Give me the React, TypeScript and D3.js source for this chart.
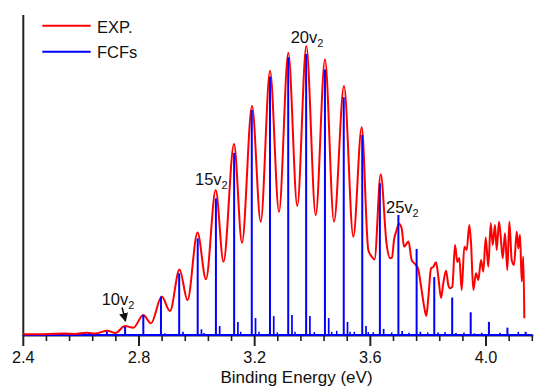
import React from "react";
import * as d3 from "d3";

const W = 535;
const H = 388;

// x axis ticks (Binding Energy, eV)
const majorTicks = [2.4, 2.8, 3.2, 3.6, 4.0];
const majorTickLabels = ["2.4", "2.8", "3.2", "3.6", "4.0"];
const minorTicks = [2.48, 2.56, 2.64, 2.72, 2.88, 2.96, 3.04, 3.12, 3.28, 3.36, 3.44, 3.52, 3.68, 3.76, 3.84, 3.92, 4.08, 4.16];

// FCF main progression (n = 8 ... 32)
const mainE = [2.625, 2.689, 2.752, 2.815, 2.876, 2.939, 3.003, 3.066, 3.129, 3.19, 3.253, 3.316, 3.378, 3.443, 3.508, 3.572, 3.633, 3.697, 3.76, 3.821, 3.883, 3.947, 4.01, 4.074, 4.137];
const mainI = [0.5, 1.1, 2.6, 6.3, 12.0, 19.3, 30.2, 42.7, 56.9, 70.3, 80.7, 86.8, 87.8, 83.0, 74.3, 62.5, 47.4, 37.5, 26.9, 18.1, 11.7, 7.1, 4.1, 2.3, 1.0];

// FCF combination bands
const combE = [2.889, 2.952, 3.016, 3.079, 3.142, 3.203, 3.266, 3.329, 3.391, 3.456, 3.521, 3.585, 3.646, 3.71, 3.773, 3.834, 3.896, 3.96];
const combI = [0.5, 1.0, 1.8, 2.8, 4.1, 5.3, 5.9, 6.25, 5.9, 5.3, 4.1, 2.8, 1.9, 1.25, 1.0, 0.8, 0.6, 0.5];

// weak FCF lines
const weakE = [3.025, 3.1517, 3.215, 3.2783, 3.3395, 3.4062, 3.4664, 3.4837, 3.5297, 3.5445, 3.5929, 3.6102, 3.6738, 3.7337, 3.7983, 3.8581, 3.9238, 3.985, 4.0483, 4.1116];
const weakI = [0.6, 1.0, 1.0, 0.8, 1.0, 0.9, 1.0, 1.3, 1.0, 1.0, 0.9, 0.9, 0.8, 0.7, 0.8, 0.9, 0.8, 0.7, 0.7, 1.0];

// experimental spectrum
const expE = [2.4, 2.4577, 2.5096, 2.5442, 2.5788, 2.6192, 2.6479, 2.6911, 2.7188, 2.7517, 2.7804, 2.8149, 2.8416, 2.8786, 2.9073, 2.9401, 2.9678, 3.0023, 3.0317, 3.0653, 3.0923, 3.1286, 3.1562, 3.1908, 3.2209, 3.2531, 3.2842, 3.3163, 3.3474, 3.3786, 3.4111, 3.4432, 3.4743, 3.5089, 3.5411, 3.5701, 3.5929, 3.6047, 3.6144, 3.6358, 3.6566, 3.668, 3.6749, 3.6818, 3.6911, 3.6991, 3.7084, 3.7164, 3.732, 3.743, 3.7544, 3.7648, 3.7752, 3.7856, 3.7935, 3.8004, 3.8098, 3.8177, 3.8271, 3.835, 3.8444, 3.8523, 3.8617, 3.8696, 3.8755, 3.8834, 3.8928, 3.9007, 3.9076, 3.9159, 3.9249, 3.9332, 3.9422, 3.9481, 3.956, 3.9654, 3.9733, 3.9827, 3.9906, 3.9989, 4.0079, 4.0162, 4.0231, 4.031, 4.0369, 4.0449, 4.0508, 4.0577, 4.0657, 4.0736, 4.0806, 4.0888, 4.0968, 4.1061, 4.1116, 4.1175, 4.1234, 4.1289, 4.1324];
const expI = [0.2, 0.25, 0.4, 0.45, 0.35, 0.7, 0.45, 1.35, 0.65, 2.8, 2.25, 6.25, 3.65, 12.0, 7.5, 20.5, 10.9, 32.0, 17.4, 45.3, 22.9, 59.7, 28.8, 71.6, 35.4, 82.6, 38.5, 88.2, 40.3, 90.3, 37.5, 86.2, 35.4, 77.8, 30.7, 64.9, 26.6, 24.5, 23.6, 50.2, 28.1, 24.0, 24.2, 29.7, 32.8, 34.8, 33.3, 27.6, 29.2, 23.4, 22.2, 20.8, 15.3, 9.1, 5.9, 11.6, 20.8, 21.3, 22.7, 18.2, 11.6, 16.2, 20.1, 15.6, 14.6, 15.1, 28.1, 22.8, 24.1, 14.1, 27.6, 26.6, 34.4, 28.7, 14.1, 19.3, 17.2, 23.4, 19.8, 30.5, 21.3, 34.9, 28.1, 34.4, 26.6, 35.4, 30.7, 24.0, 31.8, 20.3, 35.4, 23.4, 21.9, 32.3, 27.1, 31.3, 16.7, 24.5, 5.2];

// progression labels
const labelNums = ["10", "15", "20", "25"];
const labelE = [2.671, 2.9937, 3.3246, 3.654];
const labelI = [9.4, 46.9, 91.2, 38.2];

const FONT = "'Liberation Sans', Arial, Helvetica, sans-serif";

export default function App() {
  const x = d3.scaleLinear().domain([2.4, 4.16]).range([23.3, 532.3]);
  const y = d3.scaleLinear().domain([0, 100]).range([335, 15]);
  const y0 = y(0);

  const expData = expE.map((e, i) => [e, expI[i]] as [number, number]);
  const line = d3
    .line<[number, number]>()
    .x((d) => x(d[0]))
    .y((d) => y(d[1]))
    .curve(d3.curveMonotoneX);

  const sticks = (E: number[], I: number[], w: number, key: string) =>
    E.map((e, i) => (
      <line key={key + i} x1={x(e)} x2={x(e)} y1={y0} y2={y(I[i])} stroke="#0000ff" strokeWidth={w} />
    ));

  const arrowStart = [x(2.7415), y(8.6)];
  const arrowEnd = [x(2.7535), y(4.3)];

  return (
    <svg
      width={W}
      height={H}
      style={{ position: "fixed", left: 0, top: 0, background: "#fff" }}
      fontFamily={FONT}
    >
      <defs>
        <marker id="ah" viewBox="0 0 10 10" refX="9" refY="5" markerWidth="6" markerHeight="6" orient="auto">
          <path d="M0,0 L10,5 L0,10 z" fill="#111" />
        </marker>
      </defs>

      {/* axes */}
      <line x1={x(2.4)} x2={x(2.4)} y1={y(100)} y2={y0 + 1} stroke="#222" strokeWidth={2} />
      <line x1={x(2.4)} x2={x(4.16) + 1} y1={y0 + 0.5} y2={y0 + 0.5} stroke="#222" strokeWidth={2} />
      {majorTicks.map((t, i) => (
        <g key={"M" + i}>
          <line x1={x(t)} x2={x(t)} y1={y0} y2={y0 + 11} stroke="#222" strokeWidth={2} />
          <text x={x(t)} y={363.3} textAnchor="middle" fontSize={16.3} fill="#111">
            {majorTickLabels[i]}
          </text>
        </g>
      ))}
      {minorTicks.map((t, i) => (
        <line key={"m" + i} x1={x(t)} x2={x(t)} y1={y0} y2={y0 + 6} stroke="#222" strokeWidth={1.6} />
      ))}
      <text x={296.5} y={382.5} textAnchor="middle" fontSize={17} fill="#111">
        Binding Energy (eV)
      </text>

      {/* FCF baseline */}
      <line x1={x(2.4)} x2={x(4.16)} y1={y0} y2={y0} stroke="#0000ff" strokeWidth={2} />

      {/* experiment */}
      <path d={line(expData) || ""} fill="none" stroke="#ff0000" strokeWidth={2} strokeLinejoin="round" />

      {/* FCF sticks */}
      {sticks(weakE, weakI, 1.5, "w")}
      {sticks(combE, combI, 1.7, "c")}
      {sticks(mainE, mainI, 2, "s")}

      {/* labels */}
      {labelNums.map((n, i) => (
        <text key={"l" + i} x={x(labelE[i])} y={y(labelI[i])} fontSize={16.5} fill="#111">
          {n}v
          <tspan fontSize={11} dy={4}>
            2
          </tspan>
        </text>
      ))}
      <line
        x1={arrowStart[0]}
        y1={arrowStart[1]}
        x2={arrowEnd[0]}
        y2={arrowEnd[1]}
        stroke="#111"
        strokeWidth={1.5}
        markerEnd="url(#ah)"
      />

      {/* legend */}
      <line x1={42.3} x2={90.7} y1={25.7} y2={25.7} stroke="#ff0000" strokeWidth={2} />
      <text x={97} y={33} fontSize={16.5} fill="#111">
        EXP.
      </text>
      <line x1={42.3} x2={90.7} y1={51.7} y2={51.7} stroke="#0000ff" strokeWidth={2} />
      <text x={97} y={57.5} fontSize={16.5} fill="#111">
        FCFs
      </text>
    </svg>
  );
}
